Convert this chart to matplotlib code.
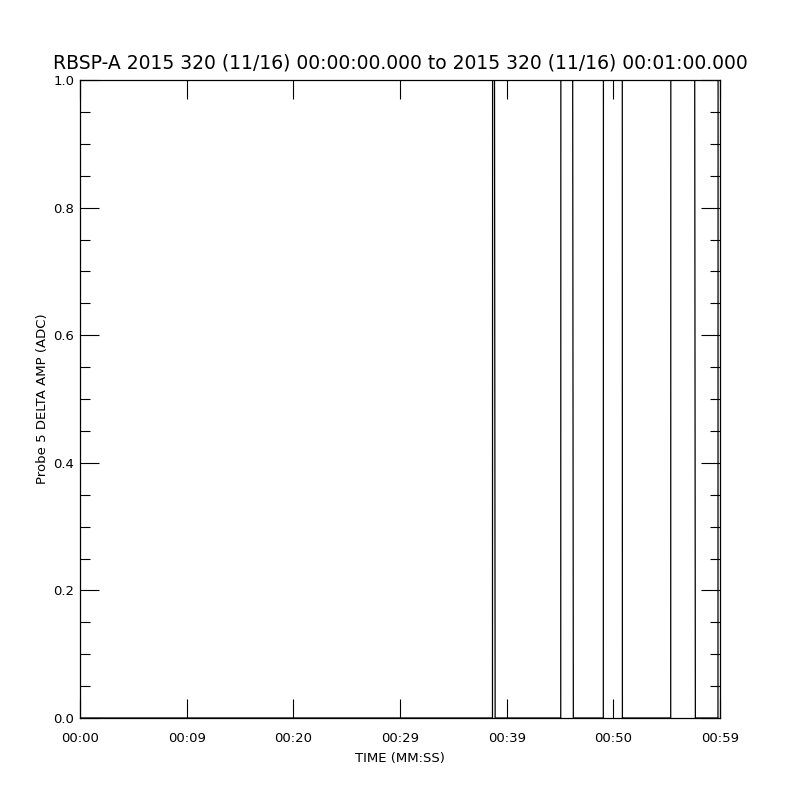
import matplotlib
matplotlib.use("Agg")
from matplotlib import pyplot as plt
from matplotlib.ticker import MultipleLocator

# Probe 5 delta amp samples (seconds after 00:00:00, value in ADC)
timeSec = [0.0, 38.67, 38.68, 38.86, 38.92, 45.07, 45.08, 46.19, 46.25,
           49.06, 49.07, 50.84, 50.85, 55.38, 55.39, 57.63, 57.69,
           59.81, 59.82, 60.0]
deltaAmp = [0, 0, 1, 1, 0, 0, 1, 1, 0,
            0, 1, 1, 0, 0, 1, 1, 0,
            0, 1, 1]

xTicks = [0, 10, 20, 30, 40, 50, 60]
xTickLabels = ['00:00', '00:09', '00:20', '00:29', '00:39', '00:50', '00:59']
yTicks = [0.0, 0.2, 0.4, 0.6, 0.8, 1.0]
yTickLabels = ['0.0', '0.2', '0.4', '0.6', '0.8', '1.0']

titleText = 'RBSP-A 2015 320 (11/16) 00:00:00.000 to 2015 320 (11/16) 00:01:00.000'

fig = plt.figure(figsize = [8, 8], dpi = 100)
ax = fig.add_axes([0.1, 0.1025, 0.8, 0.7975])

ax.plot(timeSec, deltaAmp, color = 'black', linewidth = 0.9)

ax.set_xlim(0, 60)
ax.set_ylim(0, 1)

ax.set_xticks(xTicks)
ax.set_xticklabels(xTickLabels)
ax.set_yticks(yTicks)
ax.set_yticklabels(yTickLabels)
ax.yaxis.set_minor_locator(MultipleLocator(0.05))

ax.tick_params(axis = 'both', which = 'major', direction = 'in', length = 14, width = 0.8,
               top = True, right = True, labelsize = 9.5, pad = 4)
ax.tick_params(axis = 'y', which = 'minor', direction = 'in', length = 7, width = 0.8,
               left = True, right = True)
ax.tick_params(axis = 'x', which = 'major', pad = 10)

for spine in ax.spines.values():
    spine.set_linewidth(0.9)

ax.set_xlabel('TIME (MM:SS)', fontsize = 9.5, labelpad = 5)
ax.set_ylabel('Probe 5 DELTA AMP (ADC)', fontsize = 9.5, labelpad = 3)
ax.set_title(titleText, fontsize = 13.5, pad = 8)

plt.savefig('out.png', dpi = 100)
plt.close()
